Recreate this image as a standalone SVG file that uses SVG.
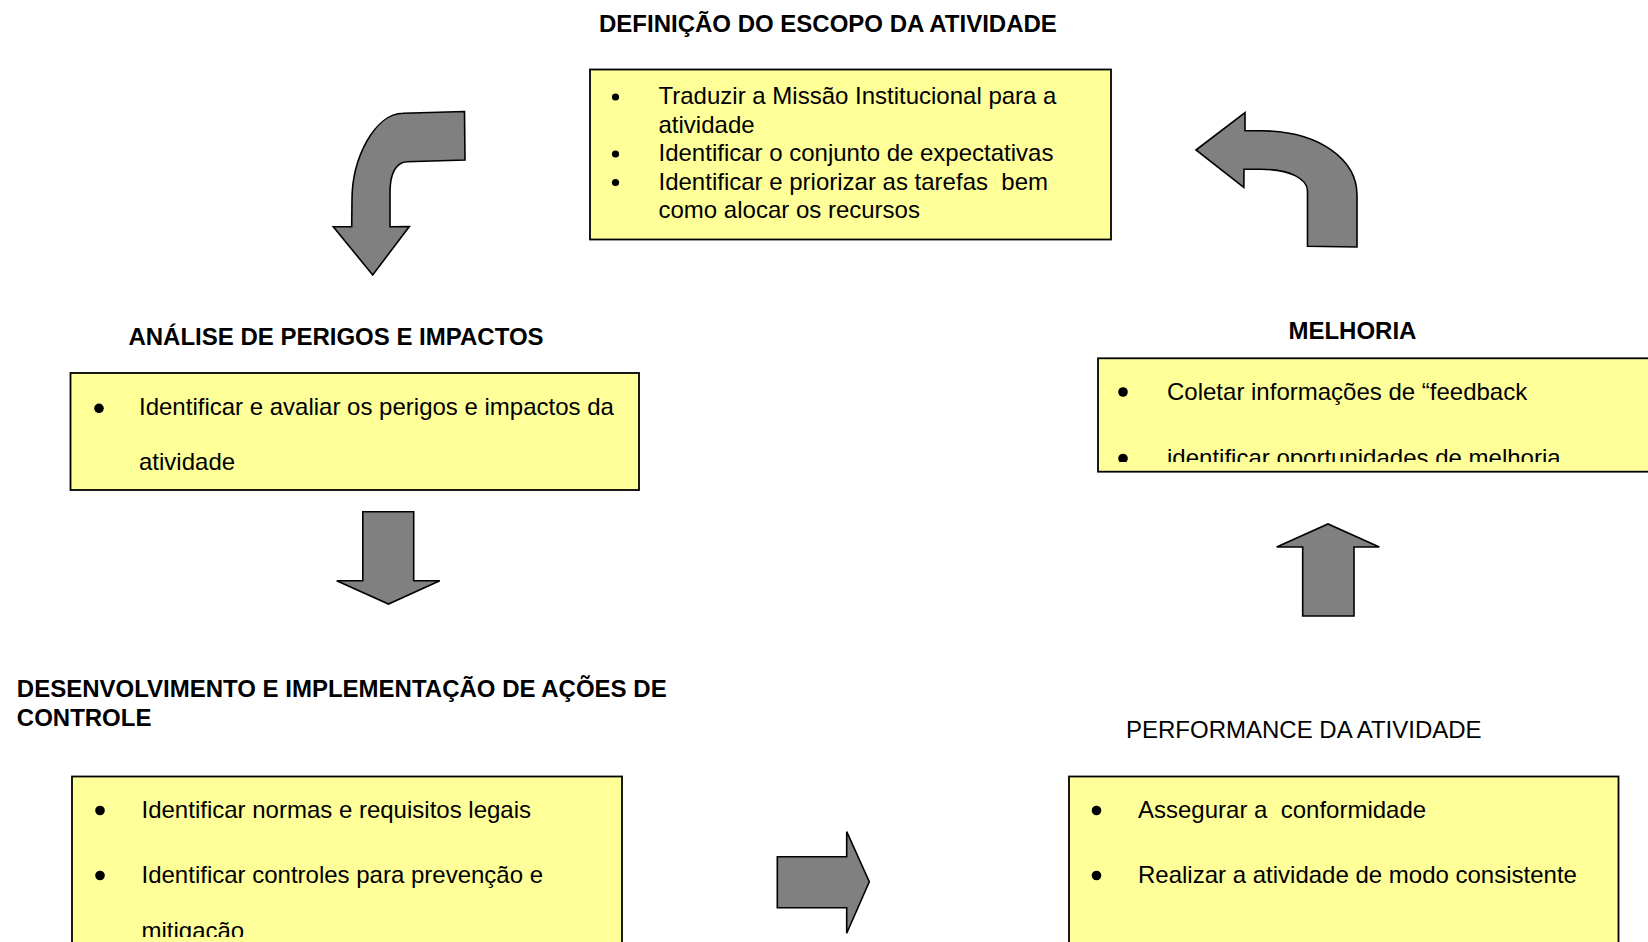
<svg xmlns="http://www.w3.org/2000/svg" width="1648" height="942" viewBox="0 0 1648 942">
<style>
.box{fill:#FFFF99;stroke:#000;stroke-width:1.8}
.title{font-family:"Liberation Sans",Arial,sans-serif;font-size:24px;font-weight:bold;fill:#000}
.plain{font-family:"Liberation Sans",Arial,sans-serif;font-size:24px;fill:#000}
.txt{font-family:"Liberation Sans",Arial,sans-serif;font-size:24px;fill:#000}
.arrow{fill:#808080;stroke:#000;stroke-width:1.6;stroke-linejoin:miter}
.dot{fill:#000}
</style>
<defs>
<clipPath id="clipMel"><rect x="1098" y="358" width="560" height="104"/></clipPath>
<clipPath id="clipDes"><rect x="72" y="776" width="550" height="161"/></clipPath>
</defs>
<rect width="1648" height="942" fill="#fff"/>

<g id="definicao">
<text class="title" x="599" y="32">DEFINIÇÃO DO ESCOPO DA ATIVIDADE</text>
<rect class="box" x="590" y="69.5" width="521" height="170"/>
<circle class="dot" cx="615.5" cy="97" r="3.6"/>
<circle class="dot" cx="615.5" cy="154" r="3.6"/>
<circle class="dot" cx="615.5" cy="182.5" r="3.6"/>
<text class="txt" x="658.5" y="104">Traduzir a Missão Institucional para a</text>
<text class="txt" x="658.5" y="132.5">atividade</text>
<text class="txt" x="658.5" y="161">Identificar o conjunto de expectativas</text>
<text class="txt" x="658.5" y="189.5" xml:space="preserve">Identificar e priorizar as tarefas  bem</text>
<text class="txt" x="658.5" y="218">como alocar os recursos</text>
</g>

<g id="analise">
<text class="title" x="128.4" y="345">ANÁLISE DE PERIGOS E IMPACTOS</text>
<rect class="box" x="70.5" y="373" width="568.5" height="117"/>
<circle class="dot" cx="99" cy="408.3" r="4.8"/>
<text class="txt" x="139" y="415">Identificar e avaliar os perigos e impactos da</text>
<text class="txt" x="139" y="470">atividade</text>
</g>

<g id="desenvolvimento">
<text class="title" x="16.8" y="696.5">DESENVOLVIMENTO E IMPLEMENTAÇÃO DE AÇÕES DE</text>
<text class="title" x="16.8" y="726">CONTROLE</text>
<rect class="box" x="72" y="776.5" width="550" height="200"/>
<g clip-path="url(#clipDes)">
<circle class="dot" cx="100" cy="810.5" r="4.8"/>
<circle class="dot" cx="100" cy="875.5" r="4.8"/>
<text class="txt" x="141.5" y="818">Identificar normas e requisitos legais</text>
<text class="txt" x="141.5" y="883">Identificar controles para prevenção e</text>
<text class="txt" x="141.5" y="939">mitigação</text>
</g>
</g>

<g id="performance">
<text class="plain" x="1126" y="738">PERFORMANCE DA ATIVIDADE</text>
<rect class="box" x="1069" y="776.5" width="549.5" height="200"/>
<circle class="dot" cx="1096.5" cy="810.5" r="4.8"/>
<circle class="dot" cx="1096.5" cy="875.5" r="4.8"/>
<text class="txt" x="1138" y="818" xml:space="preserve">Assegurar a  conformidade</text>
<text class="txt" x="1138" y="883">Realizar a atividade de modo consistente</text>
</g>

<g id="melhoria">
<text class="title" x="1288.4" y="338.5">MELHORIA</text>
<rect class="box" x="1098" y="358.3" width="570" height="113.4"/>
<g clip-path="url(#clipMel)">
<circle class="dot" cx="1123" cy="392" r="4.8"/>
<circle class="dot" cx="1123" cy="458.5" r="4.8"/>
<text class="txt" x="1167" y="400">Coletar informações de “feedback</text>
<text class="txt" x="1167" y="466">identificar oportunidades de melhoria</text>
</g>
</g>

<g id="connectors">
<path class="arrow" d="M464.5,111.5 L403,113.3 C375,113.5 352,158 352,200 L351.7,226.7 L333.3,226.7 L372.7,275 L409.3,226.5 L390,226.7 L390,192 C390,174 396,162 407,161.7 L465,160 Z"/>
<path class="arrow" d="M1196,150 L1245,112.7 L1245,130.7 L1261,130.7 C1320,131 1357,160 1357,195 L1357,247 L1307.5,246.3 L1307.5,191 C1307.5,179 1290,169.3 1261,169.3 L1244,169.3 L1243.8,187.3 Z"/>
<path class="arrow" d="M362.8,511.7 L413.7,511.7 L413.7,580.7 L439.8,580.7 L388.5,604 L336.7,580.7 L362.8,580.7 Z"/>
<path class="arrow" d="M777.3,856.7 L846.7,856.7 L846.7,831.7 L869.3,881.7 L846.7,933.3 L846.7,907.7 L777.3,907.7 Z"/>
<path class="arrow" d="M1302.7,616 L1302.7,547 L1276.7,547 L1328,524 L1379.3,547 L1354,547 L1354,616 Z"/>
</g>
</svg>
